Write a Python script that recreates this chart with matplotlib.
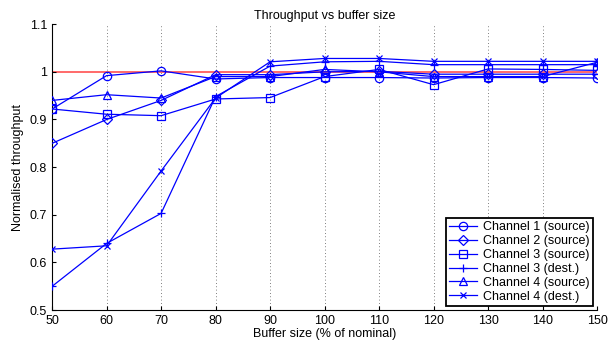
import numpy as np
import matplotlib.pyplot as plt

plt.rcParams['font.family'] = ['Liberation Sans', 'DejaVu Sans']

buffer_pct = [50, 60, 70, 80, 90, 100, 110, 120, 130, 140, 150]

ch1_src = [0.922, 0.992, 1.002, 0.985, 0.988, 0.988, 0.988, 0.987, 0.988, 0.988, 0.987]
ch2_src = [0.850, 0.900, 0.940, 0.994, 0.994, 1.000, 1.001, 0.995, 0.995, 0.995, 0.995]
ch3_src = [0.922, 0.911, 0.908, 0.943, 0.946, 0.990, 1.005, 0.973, 1.006, 1.005, 1.003]
ch3_dst = [0.550, 0.640, 0.703, 0.948, 1.012, 1.021, 1.022, 1.015, 1.015, 1.015, 1.015]
ch4_src = [0.940, 0.952, 0.945, 0.990, 0.990, 1.005, 1.000, 0.990, 0.990, 0.990, 1.020]
ch4_dst = [0.628, 0.635, 0.792, 0.945, 1.021, 1.028, 1.028, 1.022, 1.022, 1.022, 1.022]

series = [
    (ch1_src, 'o', 6, 'Channel 1 (source)'),
    (ch2_src, 'D', 5, 'Channel 2 (source)'),
    (ch3_src, 's', 6, 'Channel 3 (source)'),
    (ch3_dst, '+', 6, 'Channel 3 (dest.)'),
    (ch4_src, '^', 6, 'Channel 4 (source)'),
    (ch4_dst, 'x', 5, 'Channel 4 (dest.)'),
]

fig = plt.figure(figsize=(6.13, 3.45), dpi=100)
ax = fig.add_axes([0.085, 0.101, 0.889, 0.829])

ax.axhline(1.0, color='#ff5050', lw=1.2, zorder=1)

for vals, mk, ms, lab in series:
    ax.plot(buffer_pct, vals, color='#0000ff', lw=0.9, marker=mk, ms=ms,
            mfc='none', mec='#0000ff', mew=0.9, label=lab, zorder=3)

ax.set_xlim(50, 150)
ax.set_ylim(0.5, 1.1)
ax.set_xticks(buffer_pct)
ax.set_yticks([0.5, 0.6, 0.7, 0.8, 0.9, 1.0, 1.1])
ax.set_yticklabels(['0.5', '0.6', '0.7', '0.8', '0.9', '1', '1.1'])
ax.xaxis.grid(True, color='#555555', ls=(0, (1, 3)), lw=0.6)
ax.tick_params(direction='in', labelsize=9, length=3)
ax.spines['top'].set_visible(False)
ax.spines['right'].set_visible(False)

ax.set_xlabel('Buffer size (% of nominal)', fontsize=9, labelpad=1)
ax.set_ylabel('Normalised throughput', fontsize=9, labelpad=4)
ax.set_title('Throughput vs buffer size', fontsize=9, pad=4)

leg = ax.legend(loc='lower right', fontsize=9, frameon=True, fancybox=False,
                edgecolor='black', framealpha=1, handlelength=2.2,
                borderpad=0.3, labelspacing=0.15, handletextpad=0.5,
                borderaxespad=0.3)
leg.get_frame().set_linewidth(1.3)

plt.savefig('out.png', dpi=100)
